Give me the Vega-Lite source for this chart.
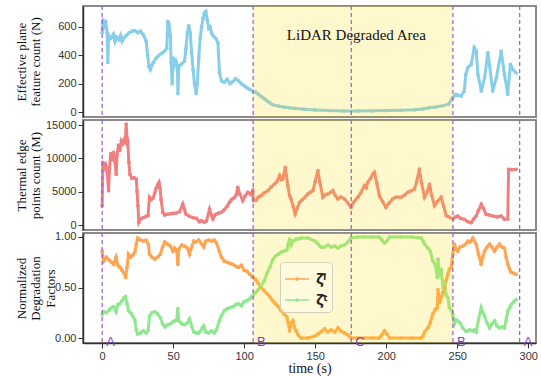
{
  "$schema": "https://vega.github.io/schema/vega-lite/v6.json",
  "background": "white",
  "padding": {"left": 14, "top": 4, "right": 0, "bottom": 0},
  "config": {
    "view": {"stroke": "#8a8a8a", "strokeWidth": 2},
    "axis": {"grid": false, "domainColor": "#333333", "domainWidth": 1.5, "tickColor": "#333333", "tickSize": 5, "labelColor": "#333333", "labelFont": "Liberation Sans", "labelFontSize": 11, "titleFont": "Liberation Serif", "titleFontSize": 13, "titleFontWeight": "normal", "titleColor": "#111111", "labelOverlap": false},
    "axisY": {"titleX": -68, "titleBaseline": "top", "titleAlign": "center", "titleAngle": -90, "titleLineHeight": 14.5, "labelPadding": 2}
  },
  "datasets": {
    "marks": [{"t": 0}, {"t": 106.3}, {"t": 175.4}, {"t": 247}, {"t": 294}],
    "labs": [{"t": 0, "v": -0.035, "lab": "A"}, {"t": 106.3, "v": -0.035, "lab": "B"}, {"t": 175.4, "v": -0.035, "lab": "C"}, {"t": 247, "v": -0.035, "lab": "B"}, {"t": 294, "v": -0.035, "lab": "A"}],
    "band": [{"t": 106.3, "t2": 247}],
    "title1": [{"t": 179, "v": 545, "lab": "LiDAR Degraded Area"}],
    "p1": [
      {"t":0,"v":560},{"t":0.5,"v":650},{"t":1.5,"v":610},{"t":2.5,"v":640},{"t":3.5,"v":560},{"t":4,"v":350},{"t":4.5,"v":540},{"t":6,"v":520},{"t":8,"v":550},{"t":9,"v":500},{"t":10,"v":530},{"t":12,"v":510},{"t":13,"v":540},{"t":14,"v":500},{"t":15,"v":520},{"t":17,"v":540},{"t":19,"v":560},{"t":21,"v":570},{"t":23,"v":575},{"t":25,"v":560},{"t":27,"v":570},{"t":29,"v":545},{"t":31,"v":500},{"t":32,"v":400},{"t":33,"v":320},{"t":34,"v":300},{"t":35,"v":330},{"t":36,"v":350},{"t":38,"v":380},{"t":40,"v":400},{"t":42,"v":415},{"t":44,"v":430},{"t":45.5,"v":450},{"t":46.2,"v":640},{"t":47,"v":620},{"t":48,"v":540},{"t":48.6,"v":350},{"t":49.3,"v":200},{"t":50,"v":380},{"t":51,"v":330},{"t":52,"v":360},{"t":53,"v":330},{"t":53.3,"v":130},{"t":54,"v":320},{"t":56,"v":340},{"t":58,"v":360},{"t":59,"v":450},{"t":60,"v":560},{"t":61,"v":610},{"t":62,"v":560},{"t":63,"v":420},{"t":64,"v":300},{"t":65,"v":200},{"t":66.2,"v":130},{"t":67,"v":200},{"t":68,"v":380},{"t":69,"v":520},{"t":70,"v":600},{"t":71,"v":660},{"t":72,"v":700},{"t":73,"v":710},{"t":74,"v":650},{"t":75,"v":590},{"t":76,"v":600},{"t":77,"v":560},{"t":78,"v":540},{"t":80,"v":520},{"t":81.5,"v":490},{"t":82.6,"v":280},{"t":84,"v":220},{"t":86,"v":210},{"t":88,"v":230},{"t":90,"v":200},{"t":92,"v":215},{"t":94,"v":235},{"t":96,"v":220},{"t":98,"v":200},{"t":100,"v":185},{"t":102,"v":170},{"t":104,"v":160},{"t":106,"v":148},{"t":108,"v":140},{"t":110,"v":125},{"t":112,"v":110},{"t":114,"v":95},{"t":116,"v":80},{"t":118,"v":65},{"t":120,"v":52},{"t":124,"v":42},{"t":128,"v":35},{"t":132,"v":30},{"t":136,"v":25},{"t":142,"v":20},{"t":150,"v":15},{"t":160,"v":10},{"t":170,"v":8},{"t":180,"v":8},{"t":190,"v":9},{"t":200,"v":10},{"t":210,"v":12},{"t":220,"v":16},{"t":226,"v":22},{"t":230,"v":30},{"t":235,"v":35},{"t":240,"v":45},{"t":244,"v":55},{"t":246.6,"v":100},{"t":249,"v":125},{"t":252.8,"v":113},{"t":255,"v":148},{"t":256,"v":265},{"t":257.5,"v":313},{"t":259.8,"v":336},{"t":262,"v":454},{"t":263.4,"v":430},{"t":264.6,"v":265},{"t":267,"v":148},{"t":269.3,"v":242},{"t":271.6,"v":420},{"t":272.8,"v":330},{"t":275,"v":148},{"t":277.6,"v":242},{"t":281,"v":430},{"t":283.3,"v":265},{"t":285.6,"v":125},{"t":287.5,"v":336},{"t":289,"v":301},{"t":291.5,"v":277}
    ],
    "p2": [
      {"t":0,"v":2900},{"t":0.5,"v":9400},{"t":1.5,"v":8500},{"t":2.5,"v":9000},{"t":3.5,"v":8000},{"t":4.5,"v":5150},{"t":5.2,"v":8500},{"t":6,"v":10700},{"t":7,"v":9800},{"t":8,"v":10900},{"t":9,"v":9500},{"t":9.9,"v":7600},{"t":10.5,"v":10500},{"t":11.5,"v":12000},{"t":12.5,"v":11200},{"t":13.5,"v":12600},{"t":14.5,"v":12200},{"t":15.5,"v":12800},{"t":16.3,"v":12500},{"t":16.9,"v":15150},{"t":17.5,"v":13000},{"t":18,"v":12600},{"t":18.8,"v":9400},{"t":19.5,"v":7600},{"t":21,"v":7000},{"t":22.5,"v":7100},{"t":24,"v":6900},{"t":24.6,"v":5000},{"t":25.2,"v":2900},{"t":25.8,"v":400},{"t":27,"v":900},{"t":29,"v":1100},{"t":31,"v":1300},{"t":32.3,"v":1400},{"t":33.3,"v":4150},{"t":34.5,"v":3800},{"t":35.7,"v":4000},{"t":37,"v":4800},{"t":38,"v":5500},{"t":39,"v":6000},{"t":40,"v":6400},{"t":40.8,"v":5500},{"t":41.5,"v":3800},{"t":42.7,"v":1900},{"t":44,"v":1500},{"t":46,"v":1600},{"t":48,"v":1700},{"t":50,"v":1750},{"t":52,"v":1800},{"t":54.5,"v":2000},{"t":56.8,"v":3150},{"t":58,"v":2300},{"t":59,"v":1650},{"t":61.5,"v":1300},{"t":64,"v":1100},{"t":66.2,"v":1000},{"t":68.5,"v":500},{"t":70,"v":650},{"t":72,"v":400},{"t":73.5,"v":600},{"t":75.6,"v":2400},{"t":77,"v":1500},{"t":78,"v":900},{"t":80,"v":1600},{"t":82,"v":1800},{"t":84,"v":1900},{"t":86,"v":2300},{"t":88,"v":2800},{"t":89.7,"v":3400},{"t":91,"v":3800},{"t":93,"v":4100},{"t":94.4,"v":4500},{"t":95.5,"v":5650},{"t":97,"v":4600},{"t":99,"v":3650},{"t":100.5,"v":4300},{"t":102.6,"v":4900},{"t":104.5,"v":4600},{"t":106,"v":5150},{"t":106.5,"v":3650},{"t":108.5,"v":3700},{"t":110,"v":4200},{"t":112,"v":4400},{"t":114,"v":4800},{"t":116.7,"v":5150},{"t":119,"v":5700},{"t":121.4,"v":6150},{"t":123,"v":6500},{"t":124.9,"v":7400},{"t":126,"v":6800},{"t":127.2,"v":6900},{"t":129,"v":8650},{"t":130.7,"v":5900},{"t":132,"v":4400},{"t":133,"v":3900},{"t":134.5,"v":2800},{"t":135.9,"v":1650},{"t":137.5,"v":2600},{"t":139,"v":3400},{"t":141,"v":3800},{"t":143,"v":4200},{"t":144.8,"v":4650},{"t":146.5,"v":4900},{"t":148.4,"v":5150},{"t":150,"v":6500},{"t":151.9,"v":8150},{"t":153.5,"v":6200},{"t":155.4,"v":4150},{"t":157,"v":4500},{"t":159,"v":4650},{"t":161,"v":4900},{"t":162.5,"v":5150},{"t":164,"v":4500},{"t":166,"v":3900},{"t":168,"v":4200},{"t":170.6,"v":3900},{"t":173,"v":3300},{"t":175.3,"v":2650},{"t":177,"v":3400},{"t":180,"v":4150},{"t":182,"v":4800},{"t":184.7,"v":5900},{"t":186,"v":5600},{"t":187,"v":6400},{"t":189,"v":7000},{"t":190.5,"v":7600},{"t":191.7,"v":7900},{"t":193.5,"v":6200},{"t":195.2,"v":4400},{"t":197.5,"v":3500},{"t":199.9,"v":2650},{"t":202,"v":3300},{"t":204.6,"v":3900},{"t":207,"v":4200},{"t":210.5,"v":4150},{"t":213,"v":4500},{"t":215.2,"v":4900},{"t":217.5,"v":5100},{"t":219.9,"v":5400},{"t":221.5,"v":6500},{"t":223.4,"v":8400},{"t":225,"v":6200},{"t":227,"v":4150},{"t":229,"v":5000},{"t":230.5,"v":6150},{"t":232,"v":4500},{"t":234,"v":2900},{"t":236,"v":3500},{"t":238.7,"v":4150},{"t":240.5,"v":2800},{"t":242.3,"v":1400},{"t":244.5,"v":1200},{"t":247,"v":900},{"t":248.5,"v":1200},{"t":250.4,"v":1350},{"t":252.5,"v":1000},{"t":255,"v":850},{"t":257.5,"v":500},{"t":259.9,"v":350},{"t":261.5,"v":900},{"t":263.4,"v":1350},{"t":265,"v":2200},{"t":267,"v":3100},{"t":268.5,"v":2500},{"t":270.4,"v":1600},{"t":272.5,"v":1500},{"t":275.1,"v":1350},{"t":278,"v":1200},{"t":281,"v":1350},{"t":283.3,"v":850},{"t":285.6,"v":900},{"t":286.2,"v":8350},{"t":288.5,"v":8300},{"t":291.5,"v":8350}
    ],
    "p3": [
      {"t":0,"l":0.86,"g":0.23},{"t":1,"l":0.76,"g":0.26},{"t":3,"l":0.80,"g":0.25},{"t":5,"l":0.77,"g":0.28},{"t":6.5,"l":0.75,"g":0.30},{"t":8,"l":0.73,"g":0.31},{"t":9.8,"l":0.80,"g":0.26},{"t":11,"l":0.72,"g":0.33},{"t":12.5,"l":0.70,"g":0.34},{"t":14,"l":0.67,"g":0.37},{"t":15.5,"l":0.64,"g":0.40},{"t":16.5,"l":0.60,"g":0.41},{"t":17.5,"l":0.70,"g":0.34},{"t":18.5,"l":0.83,"g":0.27},{"t":20,"l":0.80,"g":0.25},{"t":21.5,"l":0.82,"g":0.22},{"t":23,"l":0.85,"g":0.18},{"t":24,"l":0.93,"g":0.08},{"t":25,"l":0.99,"g":0.04},{"t":27,"l":0.97,"g":0.05},{"t":29,"l":0.96,"g":0.07},{"t":31,"l":0.97,"g":0.05},{"t":32.5,"l":0.93,"g":0.08},{"t":33.3,"l":0.83,"g":0.22},{"t":35,"l":0.80,"g":0.25},{"t":37,"l":0.78,"g":0.26},{"t":39,"l":0.80,"g":0.24},{"t":41,"l":0.83,"g":0.20},{"t":42.5,"l":0.90,"g":0.14},{"t":44,"l":0.95,"g":0.11},{"t":46,"l":0.93,"g":0.13},{"t":48,"l":0.91,"g":0.14},{"t":49.8,"l":0.86,"g":0.16},{"t":51,"l":0.89,"g":0.17},{"t":52.5,"l":0.86,"g":0.18},{"t":53.3,"l":0.73,"g":0.29},{"t":54,"l":0.88,"g":0.17},{"t":56,"l":0.92,"g":0.14},{"t":58,"l":0.91,"g":0.13},{"t":60,"l":0.89,"g":0.15},{"t":61.5,"l":0.83,"g":0.19},{"t":63,"l":0.90,"g":0.12},{"t":64.5,"l":0.96,"g":0.06},{"t":66,"l":0.95,"g":0.05},{"t":68,"l":0.97,"g":0.05},{"t":70,"l":0.93,"g":0.09},{"t":71.5,"l":0.90,"g":0.12},{"t":73,"l":0.96,"g":0.06},{"t":75,"l":0.97,"g":0.05},{"t":77,"l":0.96,"g":0.07},{"t":79,"l":0.97,"g":0.05},{"t":80.5,"l":0.94,"g":0.08},{"t":82.5,"l":0.86,"g":0.17},{"t":84,"l":0.80,"g":0.22},{"t":86,"l":0.76,"g":0.27},{"t":88,"l":0.75,"g":0.29},{"t":90,"l":0.74,"g":0.30},{"t":92,"l":0.73,"g":0.31},{"t":94,"l":0.71,"g":0.33},{"t":96,"l":0.70,"g":0.34},{"t":98,"l":0.72,"g":0.32},{"t":100,"l":0.67,"g":0.36},{"t":102,"l":0.66,"g":0.37},{"t":104,"l":0.63,"g":0.39},{"t":106,"l":0.60,"g":0.42},{"t":108,"l":0.58,"g":0.45},{"t":110,"l":0.54,"g":0.48},{"t":112,"l":0.50,"g":0.52},{"t":114,"l":0.47,"g":0.56},{"t":116,"l":0.44,"g":0.64},{"t":118,"l":0.41,"g":0.70},{"t":120,"l":0.37,"g":0.77},{"t":122,"l":0.34,"g":0.81},{"t":124,"l":0.31,"g":0.83},{"t":126,"l":0.27,"g":0.85},{"t":128,"l":0.24,"g":0.86},{"t":130,"l":0.21,"g":0.87},{"t":131,"l":0.15,"g":0.93},{"t":132,"l":0.07,"g":0.98},{"t":133,"l":0.15,"g":0.92},{"t":134.3,"l":0.17,"g":0.96},{"t":135.5,"l":0.10,"g":0.97},{"t":136.6,"l":0.07,"g":0.98},{"t":138,"l":0.03,"g":0.98},{"t":140,"l":0.00,"g":0.99},{"t":145,"l":0.00,"g":0.99},{"t":150,"l":0.02,"g":0.96},{"t":152,"l":0.04,"g":0.93},{"t":154,"l":0.06,"g":0.90},{"t":156.6,"l":0.09,"g":0.90},{"t":159,"l":0.06,"g":0.92},{"t":161.3,"l":0.08,"g":0.90},{"t":164,"l":0.06,"g":0.91},{"t":166,"l":0.10,"g":0.89},{"t":168,"l":0.07,"g":0.91},{"t":170.6,"l":0.05,"g":0.92},{"t":173,"l":0.03,"g":0.95},{"t":175.3,"l":0.00,"g":0.99},{"t":180,"l":0.00,"g":1.00},{"t":185,"l":0.00,"g":1.00},{"t":190,"l":0.00,"g":1.00},{"t":195,"l":0.00,"g":1.00},{"t":197,"l":0.03,"g":0.97},{"t":198.8,"l":0.07,"g":0.94},{"t":200.5,"l":0.04,"g":0.96},{"t":202.4,"l":0.00,"g":1.00},{"t":210,"l":0.00,"g":1.00},{"t":218,"l":0.00,"g":1.00},{"t":224.7,"l":0.00,"g":0.99},{"t":226,"l":0.02,"g":0.96},{"t":227,"l":0.06,"g":0.93},{"t":229.4,"l":0.10,"g":0.89},{"t":231,"l":0.15,"g":0.86},{"t":232.9,"l":0.24,"g":0.76},{"t":234.5,"l":0.28,"g":0.73},{"t":236,"l":0.30,"g":0.60},{"t":236.5,"l":0.48,"g":0.78},{"t":237.5,"l":0.35,"g":0.62},{"t":238.7,"l":0.40,"g":0.68},{"t":240,"l":0.45,"g":0.50},{"t":241.1,"l":0.50,"g":0.55},{"t":242.3,"l":0.57,"g":0.42},{"t":243.4,"l":0.63,"g":0.40},{"t":244.5,"l":0.68,"g":0.30},{"t":245.8,"l":0.70,"g":0.28},{"t":246.9,"l":0.83,"g":0.23},{"t":248,"l":0.93,"g":0.14},{"t":249.2,"l":0.88,"g":0.18},{"t":250.4,"l":0.86,"g":0.17},{"t":252,"l":0.90,"g":0.15},{"t":253.9,"l":0.91,"g":0.10},{"t":256,"l":0.93,"g":0.07},{"t":257.5,"l":0.96,"g":0.07},{"t":259,"l":0.95,"g":0.08},{"t":261,"l":0.99,"g":0.07},{"t":262,"l":0.96,"g":0.08},{"t":263.4,"l":0.93,"g":0.06},{"t":265,"l":0.83,"g":0.18},{"t":266.9,"l":0.73,"g":0.30},{"t":268,"l":0.80,"g":0.25},{"t":269.3,"l":0.86,"g":0.22},{"t":271,"l":0.90,"g":0.15},{"t":272.8,"l":0.93,"g":0.10},{"t":274.5,"l":0.90,"g":0.14},{"t":276.3,"l":0.86,"g":0.17},{"t":278,"l":0.90,"g":0.12},{"t":279.8,"l":0.93,"g":0.10},{"t":281.5,"l":0.90,"g":0.11},{"t":283.3,"l":0.89,"g":0.10},{"t":284.5,"l":0.80,"g":0.18},{"t":285.7,"l":0.73,"g":0.27},{"t":287,"l":0.68,"g":0.30},{"t":288,"l":0.65,"g":0.33},{"t":290,"l":0.64,"g":0.36},{"t":291.5,"l":0.63,"g":0.38}
    ]
  },
  "resolve": {"scale": {"color": "independent"}},
  "bounds": "flush",
  "spacing": 3,
  "vconcat": [
    {
      "width": 453, "height": 111,
      "resolve": {"scale": {"y": "shared"}, "axis": {"y": "independent"}},
      "encoding": {"x": {"field": "t", "type": "quantitative", "scale": {"domain": [-13.5, 305.5], "nice": false, "zero": false}, "axis": null}},
      "layer": [
        {"data": {"name": "p1"}, "mark": {"type": "line", "color": "#87CEEB", "strokeWidth": 3, "point": {"filled": true, "size": 14, "color": "#87CEEB"}},
         "encoding": {"y": {"field": "v", "type": "quantitative", "scale": {"domain": [-35, 748], "nice": false, "zero": false}, "axis": {"values": [0, 200, 400, 600], "title": ["Effective plane", "feature count (N)"], "titleY": 55.5}}}},
        {"data": {"name": "band"}, "mark": {"type": "rect", "color": "#FFDC00", "opacity": 0.2}, "encoding": {"x2": {"field": "t2"}}},
        {"data": {"name": "marks"}, "mark": {"type": "rule", "color": "#9B59D0", "strokeDash": [4, 3], "strokeWidth": 1.2}, "encoding": {}},
        {"data": {"name": "title1"}, "mark": {"type": "text", "font": "Liberation Serif", "fontSize": 15, "color": "#111111"},
         "encoding": {"y": {"field": "v", "type": "quantitative", "axis": null}, "text": {"field": "lab"}}}
      ]
    },
    {
      "width": 453, "height": 110,
      "encoding": {"x": {"field": "t", "type": "quantitative", "scale": {"domain": [-13.5, 305.5], "nice": false, "zero": false}, "axis": null}},
      "layer": [
        {"data": {"name": "p2"}, "mark": {"type": "line", "color": "#F08080", "strokeWidth": 3, "point": {"filled": true, "size": 14, "color": "#F08080"}},
         "encoding": {"y": {"field": "v", "type": "quantitative", "scale": {"domain": [-750, 15750], "nice": false, "zero": false}, "axis": {"values": [0, 5000, 10000, 15000], "format": "d", "title": ["Thermal edge", "points count (M)"], "titleY": 55}}}},
        {"data": {"name": "band"}, "mark": {"type": "rect", "color": "#FFDC00", "opacity": 0.2}, "encoding": {"x2": {"field": "t2"}}},
        {"data": {"name": "marks"}, "mark": {"type": "rule", "color": "#9B59D0", "strokeDash": [4, 3], "strokeWidth": 1.2}, "encoding": {}}
      ]
    },
    {
      "width": 453, "height": 110,
      "resolve": {"scale": {"y": "shared"}, "axis": {"y": "independent"}},
      "encoding": {"x": {"field": "t", "type": "quantitative", "scale": {"domain": [-13.5, 305.5], "nice": false, "zero": false},
        "axis": {"values": [0, 50, 100, 150, 200, 250, 300], "format": "d", "title": "time (s)", "titlePadding": 0, "labelPadding": 2, "titleFontSize": 14}}},
      "layer": [
        {"data": {"name": "p3"}, "transform": [{"fold": ["l", "g"], "as": ["s", "v"]}],
         "mark": {"type": "line", "strokeWidth": 3, "point": {"filled": true, "size": 14}},
         "encoding": {
           "y": {"field": "v", "type": "quantitative", "scale": {"domain": [-0.0495, 1.0396], "nice": false, "zero": false}, "axis": {"values": [0, 0.5, 1], "format": ".2f", "title": ["Normalized", "Degradation", "Factors"], "titleY": 55}},
           "color": {"field": "s", "type": "nominal", "scale": {"domain": ["l", "g"], "range": ["#FFA552", "#8FE88F"]},
             "legend": {"orient": "none", "legendX": 197, "legendY": 29, "title": null,
               "symbolType": "M-1,0L1,0M-0.09,0A0.09,0.09 0 1,0 0.09,0A0.09,0.09 0 1,0 -0.09,0",
               "symbolSize": 576, "symbolStrokeWidth": 1.5, "labelFont": "Noto Sans", "labelFontWeight": "bold", "labelFontSize": 15, "labelColor": "#222222", "labelOffset": 6,
               "fillColor": "rgba(255,255,245,0.4)", "strokeColor": "#d0d0c0", "cornerRadius": 4, "padding": 4, "rowPadding": 0,
               "labelExpr": "datum.value == 'l' ? '\u03b6\u0304\u02e1' : '\u03b6\u0304\u1d57'"}}
         }},
        {"data": {"name": "band"}, "mark": {"type": "rect", "color": "#FFDC00", "opacity": 0.2}, "encoding": {"x2": {"field": "t2"}}},
        {"data": {"name": "marks"}, "mark": {"type": "rule", "color": "#9B59D0", "strokeDash": [4, 3], "strokeWidth": 1.2}, "encoding": {}},
        {"data": {"name": "labs"}, "mark": {"type": "text", "align": "left", "dx": 4, "font": "Liberation Sans", "fontSize": 13, "color": "#7E3DB8"},
         "encoding": {"y": {"field": "v", "type": "quantitative", "axis": null}, "text": {"field": "lab"}}}
      ]
    }
  ]
}
